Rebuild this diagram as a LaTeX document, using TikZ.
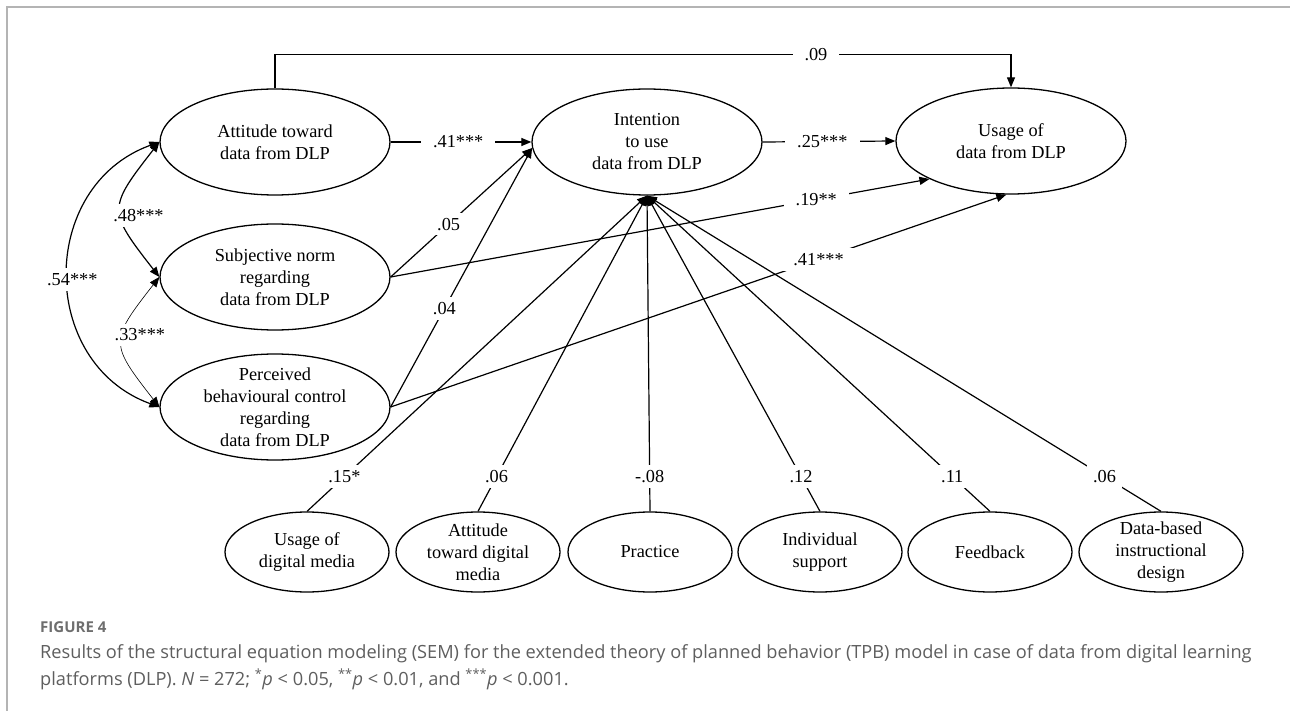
\documentclass[tikz,border=0pt]{standalone}
\usepackage{fontspec}
\setmainfont{Liberation Serif}
\newfontfamily\capfont{Open Sans}
\usetikzlibrary{shapes.geometric,arrows.meta}
\definecolor{framegray}{HTML}{B4B4B4}
\definecolor{capgray}{HTML}{5E5E5E}
\definecolor{figgray}{HTML}{6E6E6E}
\begin{document}
\begin{tikzpicture}[x=1pt,y=1pt,
  >={Triangle[length=10pt,width=8pt]},
  txt/.style={align=center,font=\fontsize{18.3}{22}\selectfont,inner sep=0pt},
  ell/.style={draw,ellipse,line width=1.3pt,inner sep=0pt},
  bigell/.style={ell,minimum width=230pt,minimum height=106pt},
  smallell/.style={ell,minimum width=164pt,minimum height=80pt},
  ln/.style={line width=1.2pt},
  thin/.style={line width=0.6pt},
  lbl/.style={fill=white,inner xsep=12pt,inner ysep=5pt,font=\fontsize{18.3}{22}\selectfont},
  dlbl/.style={lbl,inner xsep=6pt},
  frame/.style={draw=framegray,line width=1.5pt},
  figlbl/.style={anchor=base west,inner sep=0pt,text=figgray,font=\capfont\bfseries\fontsize{15}{17}\selectfont},
  caplbl/.style={anchor=base west,inner sep=0pt,text=capgray,font=\capfont\fontsize{18.2}{22}\selectfont}
]
\useasboundingbox (0,0) rectangle (1290,-711);
\draw[frame] (7,-711) -- (7,-7) -- (1290,-7);

% main constructs
\node[bigell,label={[txt]center:{Attitude toward\\data from DLP}}] (A) at (275,-142) {};
\node[bigell,label={[txt]center:{Subjective norm\\regarding\\data from DLP}}] (S) at (275,-277) {};
\node[bigell,label={[txt]center:{Perceived\\behavioural control\\regarding\\data from DLP}}] (P) at (275,-407) {};
\node[bigell,label={[txt]center:{Intention\\to use\\data from DLP}}] (I) at (647,-142) {};
\node[bigell,label={[txt]center:{Usage of\\data from DLP}}] (U) at (1011,-141) {};

% bottom predictors
\node[smallell,label={[txt]center:{Usage of\\digital media}}] (B1) at (307,-552) {};
\node[smallell,label={[txt]center:{Attitude\\toward digital\\media}}] (B2) at (478,-552) {};
\node[smallell,label={[txt]center:{Practice}}] (B3) at (650,-552) {};
\node[smallell,label={[txt]center:{Individual\\support}}] (B4) at (820,-552) {};
\node[smallell,label={[txt]center:{Feedback}}] (B5) at (990,-552) {};
\node[smallell,label={[txt]center:{Data-based\\instructional\\design}}] (B6) at (1161,-552) {};

% paths among constructs
\draw[ln,->] (A.north) -- ++(0,34) -| node[lbl,pos=0.3675] {.09} (U.north);
\draw[ln,->] (A.east) -- node[lbl,pos=0.48] {.41***} (I.west);
\draw[ln,->] (I.east) -- node[lbl,pos=0.45] {.25***} (U.west);
\draw[ln,->] (S.east) -- node[lbl,pos=0.79] {.19**} (U.205);
\draw[ln,->] (P.east) -- node[lbl,pos=0.695] {.41***} (U.265);
\draw[ln,->] (S.east) -- node[dlbl,pos=0.41] {.05} (I.183);
\draw[ln,->] (P.east) -- node[dlbl,pos=0.38] {.04} (I.183);

% predictors to intention
\draw[ln,->] (B1.north) -- node[dlbl,pos=0.11] {.15*} (I.south);
\draw[ln,->] (B2.north) -- node[dlbl,pos=0.11] {.06} (I.south);
\draw[ln,->] (B3.north) -- node[dlbl,pos=0.11] {-.08} (I.south);
\draw[ln,->] (B4.north) -- node[dlbl,pos=0.11] {.12} (I.south);
\draw[ln,->] (B5.north) -- node[dlbl,pos=0.11] {.11} (I.south);
\draw[ln,->] (B6.north) -- node[dlbl,pos=0.11] {.06} (I.south);

% correlations
\draw[ln,<->] (A.west) to[out=200,in=160,looseness=1.25] node[lbl,pos=0.5,xshift=4pt,yshift=-5pt] {.54***} (P.west);
\draw[ln,<->] (A.west) to[out=232,in=128,looseness=1.6] node[dlbl,pos=0.5,xshift=18pt,yshift=-6pt] {.48***} (S.west);
\draw[thin,<->] (S.west) to[out=232,in=128,looseness=1.6] node[dlbl,pos=0.5,xshift=18pt,yshift=7pt] {.33***} (P.west);

% caption
\node[figlbl] (fig) at (40,-632) {FIGURE 4};
\node[caplbl] (cap1) at (40,-658) {Results of the structural equation modeling (SEM) for the extended theory of planned behavior (TPB) model in case of data from digital learning};
\node[caplbl] (cap2) at (40,-685) {platforms (DLP). \textit{N} = 272; \textsuperscript{*}\textit{p} < 0.05, \textsuperscript{**}\textit{p} < 0.01, and \textsuperscript{***}\textit{p} < 0.001.};
\end{tikzpicture}
\end{document}
